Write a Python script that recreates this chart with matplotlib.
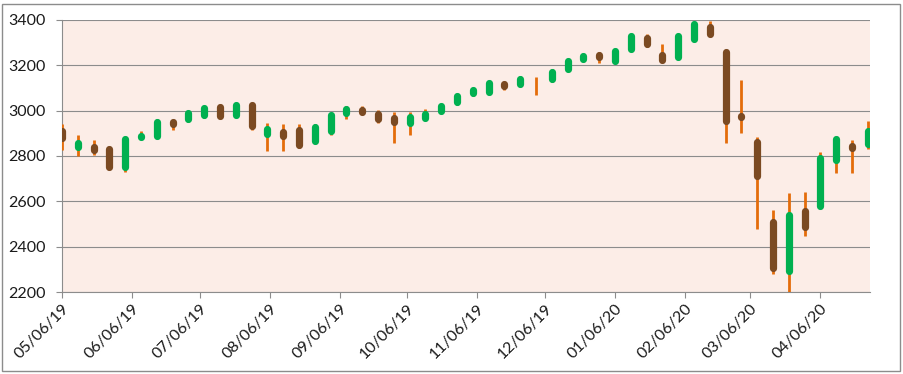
import matplotlib
matplotlib.use("Agg")
import matplotlib.pyplot as plt
import matplotlib.dates as mdates
from matplotlib.patches import Rectangle
import numpy as np
import pandas as pd

# Weekly candles (week start dates)
dates = pd.date_range("2019-05-06", periods=52, freq="7D")
opens = [2908.9, 2840.2, 2841.9, 2830.0, 2751.5, 2885.8, 2889.8, 2951.4, 2964.7, 2980.9,
         3017.8, 2981.9, 3024.5, 2898.1, 2907.1, 2913.5, 2866.7, 2909.0, 2988.4, 3001.5,
         2983.5, 2967.1, 2944.2, 2965.8, 2996.5, 3039.7, 3079.0, 3080.3, 3117.9, 3117.4,
         3143.9, 3141.9, 3183.6, 3226.1, 3247.2, 3217.6, 3271.1, 3321.0, 3247.2, 3235.7,
         3318.3, 3369.0, 3257.6, 2974.3, 2863.9, 2508.6, 2290.7, 2559.0, 2578.3, 2782.5,
         2845.6, 2854.7]
highs = [2939.5, 2891.3, 2868.9, 2840.5, 2884.9, 2910.6, 2964.2, 2954.9, 2995.8, 3013.9,
         3017.8, 3028.0, 3029.5, 2944.2, 2943.3, 2939.1, 2940.0, 2985.9, 3020.5, 3022.4,
         3002.0, 2992.5, 2993.3, 3008.3, 3027.4, 3067.0, 3097.8, 3120.5, 3127.6, 3154.3,
         3150.6, 3182.7, 3225.7, 3247.9, 3258.1, 3267.1, 3329.9, 3337.8, 3293.0, 3337.6,
         3385.1, 3393.5, 3259.8, 3136.7, 2882.6, 2563.0, 2637.0, 2641.4, 2818.6, 2879.2,
         2871.0, 2954.9]
lows = [2825.4, 2801.4, 2805.5, 2750.5, 2728.8, 2873.2, 2887.3, 2913.9, 2952.2, 2967.0,
        2973.1, 2976.6, 2914.1, 2822.1, 2824.0, 2835.0, 2856.0, 2891.9, 2964.0, 2985.5,
        2945.5, 2855.9, 2892.7, 2962.0, 2995.0, 3023.2, 3065.0, 3077.0, 3089.0, 3117.0,
        3070.3, 3125.0, 3183.0, 3226.0, 3212.0, 3214.6, 3271.0, 3281.5, 3214.7, 3235.7,
        3315.0, 3328.5, 2855.8, 2901.0, 2478.9, 2280.5, 2191.9, 2447.5, 2578.3, 2727.1,
        2727.1, 2830.0]
closes = [2881.4, 2859.5, 2826.1, 2752.1, 2873.3, 2887.0, 2950.5, 2941.8, 2990.4, 3013.8,
          2976.6, 3025.9, 2932.1, 2918.7, 2888.7, 2847.1, 2926.5, 2978.7, 3007.4, 2992.1,
          2961.8, 2952.0, 2970.3, 2986.2, 3022.6, 3066.9, 3093.1, 3120.5, 3110.3, 3141.0,
          3145.9, 3168.8, 3221.2, 3240.0, 3234.9, 3265.4, 3329.6, 3295.5, 3225.5, 3327.7,
          3380.2, 3337.8, 2954.2, 2972.4, 2711.0, 2304.9, 2541.5, 2488.7, 2789.8, 2874.6,
          2836.7, 2912.4]

tick_dates = pd.date_range("2019-05-01", periods=12, freq="MS") + pd.Timedelta(days=5)
yticks = [2200, 2400, 2600, 2800, 3000, 3200, 3400]

UP = "#00B050"
DOWN = "#7B4A22"
WICK = "#E46C0A"
BG = "#FCEDE7"
GRID = "#8C8C8C"
TXT = "#1A1A1A"

plt.rcParams["font.family"] = ["Lato", "DejaVu Sans"]

W, H = 904, 374
fig = plt.figure(figsize=(W / 100, H / 100), dpi=100)
ax = fig.add_axes([62 / W, (H - 292) / H, (870 - 62) / W, (292 - 20) / H])
ax.set_facecolor(BG)

o = np.array(opens); c = np.array(closes)
x = mdates.date2num(dates)
up = c >= o

ax.vlines(x, lows, highs, colors=WICK, linewidth=2.0, zorder=3)
ax.vlines(x[up], o[up], c[up], colors=UP, linewidth=5.2, capstyle="round", zorder=4)
ax.vlines(x[~up], o[~up], c[~up], colors=DOWN, linewidth=5.2, capstyle="round", zorder=4)

ax.set_xlim(mdates.date2num(pd.Timestamp("2019-05-06")), mdates.date2num(pd.Timestamp("2020-04-28")))
ax.set_ylim(2200, 3400)
ax.set_yticks(yticks)
ax.set_xticks(mdates.date2num(tick_dates))
ax.set_xticklabels([d.strftime("%m/%d/%y") for d in tick_dates], rotation=45, ha="right",
                   rotation_mode="anchor")

ax.grid(axis="y", color=GRID, linewidth=0.8, zorder=1)
ax.set_axisbelow(True)
for s in ["top", "right"]:
    ax.spines[s].set_visible(False)
for s in ["left", "bottom"]:
    ax.spines[s].set_color(GRID)
    ax.spines[s].set_linewidth(0.8)
ax.tick_params(axis="y", direction="out", length=4, width=0.8, color=GRID, pad=8,
               labelsize=11.5, labelcolor=TXT)
ax.tick_params(axis="x", direction="out", length=4, width=0.8, color=GRID, pad=3,
               labelsize=11.5, labelcolor=TXT)

fig.patches.append(Rectangle((2.5 / W, 3.5 / H), (W - 6) / W, (H - 7) / H,
                             transform=fig.transFigure, fill=False,
                             edgecolor="#8C8C8C", linewidth=1.0))

fig.savefig("out.png", dpi=100, facecolor="white")
